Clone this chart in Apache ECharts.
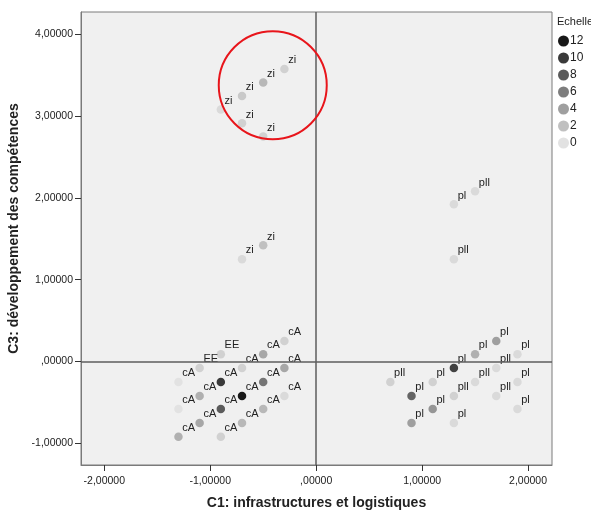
<!DOCTYPE html>
<html>
<head>
<meta charset="utf-8">
<script src="https://cdn.jsdelivr.net/npm/echarts@6/dist/echarts.min.js"></script>
<style>
  html, body { margin: 0; padding: 0; background: #fff; }
  #chart { width: 591px; height: 514px; }
</style>
</head>
<body>
<div id="chart"></div>
<script>
// C1 (x) / C3 (y) scores, echelle value and case label for each point
const c1 = [
  -0.30, -0.50, -0.70, -0.90, -0.70, -0.50, -0.50, -0.70,
  1.50, 1.30, 1.30,
  -0.30, -0.90, -0.50, -1.10, -0.70, -0.30, -1.30, -0.90, -0.50,
  -1.10, -0.70, -0.30, -1.30, -0.90, -0.50, -1.10, -0.70, -1.30, -0.90,
  1.70, 1.50, 1.90, 1.30, 1.70, 0.70, 1.10, 1.50, 1.90,
  0.90, 1.30, 1.70, 1.10, 1.90, 0.90, 1.30
];
const c3 = [
  3.575, 3.41, 3.245, 3.08, 2.91, 2.75, 1.42, 1.25,
  2.08, 1.92, 1.25,
  0.25, 0.09, 0.09, -0.08, -0.08, -0.08, -0.25, -0.25, -0.25,
  -0.42, -0.42, -0.42, -0.58, -0.58, -0.58, -0.75, -0.75, -0.92, -0.92,
  0.25, 0.09, 0.09, -0.08, -0.08, -0.25, -0.25, -0.25, -0.25,
  -0.42, -0.42, -0.42, -0.58, -0.58, -0.75, -0.75
];
const echelle = [
  1, 2.5, 1.5, 0.5, 1, 1, 2, 0.5,
  0.5, 0.5, 0.5,
  1, 1, 3.5, 1, 1, 3.5, 0, 10, 6.5,
  3, 12, 0.5, 0, 8, 2.5, 3.5, 2.5, 3, 1,
  4, 3, 0.5, 9.5, 0.5, 1, 1, 0.5, 0.5,
  7.5, 1, 0.5, 4.5, 0.5, 4, 0.5
];
const caseLabels = [
  'zi', 'zi', 'zi', 'zi', 'zi', 'zi', 'zi', 'zi',
  'pll', 'pl', 'pll',
  'cA', 'EE', 'cA', 'EE', 'cA', 'cA', 'cA', 'cA', 'cA',
  'cA', 'cA', 'cA', 'cA', 'cA', 'cA', 'cA', 'cA', 'cA', 'cA',
  'pl', 'pl', 'pl', 'pl', 'pll', 'pll', 'pl', 'pll', 'pl',
  'pl', 'pll', 'pll', 'pl', 'pl', 'pl', 'pl'
];
const legendLevels = [12, 10, 8, 6, 4, 2, 0];
const xTicks = [-2, -1, 0, 1, 2];
const yTicks = [-1, 0, 1, 2, 3, 4];
// highlighted group (red circle), in data units
const circleCenter = [-0.41, 3.375];

const FONT = 'Liberation Sans, Arial, sans-serif';

function shade(v) {
  // 0 -> light grey, 12 -> almost black
  const t = Math.max(0, Math.min(1, v / 12));
  const c = Math.round(226 - t * (226 - 24));
  return 'rgb(' + c + ',' + c + ',' + c + ')';
}

function fmt(v) {
  let s = Math.abs(v).toFixed(5).replace('.', ',');
  if (s.charAt(0) === '0') s = s.slice(1);
  return (v < 0 ? '-' : '') + s;
}

const points = c1.map((x, i) => [x, c3[i], echelle[i], caseLabels[i]]);

const legendSeries = legendLevels.map(v => ({
  name: String(v),
  type: 'scatter',
  data: [],
  itemStyle: { color: shade(v), opacity: 1 }
}));

const chart = echarts.init(document.getElementById('chart'));

const options = {
  animation: false,
  backgroundColor: '#ffffff',
  textStyle: { fontFamily: FONT },
  title: {
    text: 'Echelle',
    left: 552,
    top: 11,
    textStyle: { fontSize: 11, fontWeight: 'normal', color: '#222', fontFamily: FONT }
  },
  legend: {
    orient: 'vertical',
    left: 553,
    top: 30,
    icon: 'circle',
    itemWidth: 11,
    itemHeight: 11,
    itemGap: 5,
    selectedMode: false,
    data: legendLevels.map(String),
    textStyle: { fontSize: 12, color: '#222', padding: [0, 0, 0, -4], fontFamily: FONT }
  },
  grid: {
    left: 81,
    right: 39,
    top: 12,
    bottom: 49,
    outerBoundsMode: 'none',
    containLabel: false,
    show: true,
    backgroundColor: '#f0f0f0',
    borderColor: '#7a7a7a',
    borderWidth: 1
  },
  xAxis: {
    type: 'value',
    min: -2.22,
    max: 2.226,
    name: 'C1: infrastructures et logistiques',
    nameLocation: 'middle',
    nameGap: 31,
    nameTextStyle: { fontSize: 14, fontWeight: 'bold', color: '#222', fontFamily: FONT },
    axisLine: { show: true, onZero: false, lineStyle: { color: '#7a7a7a' } },
    axisTick: { show: true, length: 6, customValues: xTicks, lineStyle: { color: '#333' } },
    axisLabel: { customValues: xTicks, formatter: fmt, fontSize: 10.5, color: '#222', margin: 11, fontFamily: FONT },
    splitLine: { show: false }
  },
  yAxis: {
    type: 'value',
    min: -1.264,
    max: 4.27,
    name: 'C3: développement des compétences',
    nameLocation: 'middle',
    nameGap: 58,
    nameTextStyle: { fontSize: 14, fontWeight: 'bold', color: '#222', fontFamily: FONT, padding: [0, 0, 0, 20] },
    axisLine: { show: true, onZero: false, lineStyle: { color: '#7a7a7a' } },
    axisTick: { show: true, length: 6, customValues: yTicks, lineStyle: { color: '#333' } },
    axisLabel: { customValues: yTicks, formatter: fmt, fontSize: 10.5, color: '#222', margin: 8, fontFamily: FONT },
    splitLine: { show: false }
  },
  series: [
    {
      name: 'cases',
      type: 'scatter',
      data: points,
      symbolSize: 8.5,
      itemStyle: { color: p => shade(p.value[2]), opacity: 1 },
      label: {
        show: true,
        position: [8, -4.5],
        align: 'left',
        verticalAlign: 'middle',
        formatter: p => p.value[3],
        fontSize: 11,
        color: '#222',
        fontFamily: FONT
      },
      labelLayout: { hideOverlap: false },
      markLine: {
        silent: true,
        symbol: 'none',
        label: { show: false },
        lineStyle: { color: '#5e5e5e', width: 1.5, type: 'solid' },
        data: [{ xAxis: 0 }, { yAxis: 0 }]
      },
      z: 3
    }
  ].concat(legendSeries)
};

chart.setOption(options);

const ctr = chart.convertToPixel({ gridIndex: 0 }, circleCenter);
chart.setOption({
  graphic: [{
    type: 'circle',
    shape: { cx: ctr[0], cy: ctr[1], r: 54 },
    style: { fill: 'none', stroke: '#e8151b', lineWidth: 2 },
    z: 100
  }]
});
</script>
</body>
</html>
